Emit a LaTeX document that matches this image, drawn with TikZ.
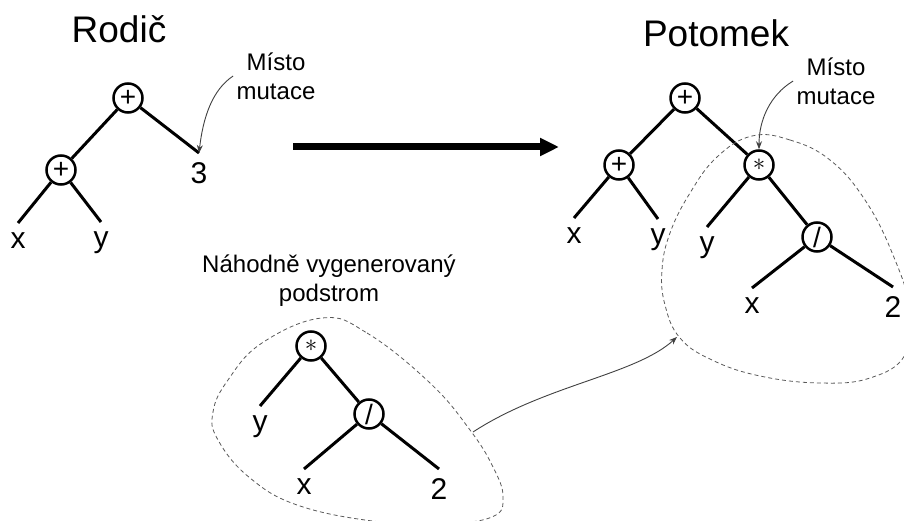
\documentclass[tikz,border=0pt]{standalone}
\usepackage{fontspec}
\setmainfont{Liberation Sans}
\usepackage{tikz}
\usetikzlibrary{arrows.meta}

\begin{document}
\begin{tikzpicture}[x=1pt, y=-1pt,
  op/.style={circle, draw, line width=2.5pt, minimum size=29pt, inner sep=0pt, font=\fontsize{28}{28}\selectfont},
  leaf/.style={anchor=north, inner xsep=0pt, inner ysep=9pt, font=\fontsize{30}{30}\selectfont},
  edge/.style={line width=3pt},
  title/.style={anchor=base, font=\fontsize{37}{37}\selectfont},
  note/.style={align=center, font=\fontsize{24}{29}\selectfont},
  pointer/.style={draw=black!75, line width=0.9pt, -{Stealth[length=8pt,width=6pt]}},
  blob/.style={draw=black!65, line width=0.8pt, dash pattern=on 4pt off 3pt}]

\useasboundingbox (0,0) rectangle (904,521);

% rodic
\node[title] (rodic) at (119,43) {Rodič};
\node[op] (p1) at (128,98) {+};
\node[op] (p2) at (61,170) {+};
\node[leaf] (px) at (18,223) {x};
\node[leaf] (py) at (101,222) {y};
\node[leaf] (p3) at (199,153) {3};

\draw[edge] (p1) -- (p2);
\draw[edge] (p1) -- (p3.north);
\draw[edge] (p2) -- (px.north);
\draw[edge] (p2) -- (py.north);

\node[note] (pmisto) at (276,76) {Místo\\mutace};
\draw[pointer] (pmisto.west) .. controls (212,90) and (203,118) .. (p3.north);

% potomek
\node[title] (potomek) at (716,47) {Potomek};
\node[op] (c1) at (685,98) {+};
\node[op] (c2) at (619,165) {+};
\node[op] (c3) at (759,165) {\fontsize{36}{36}\selectfont$\ast$};
\node[op] (c4) at (817,237) {/};
\node[leaf] (cx) at (574,218) {x};
\node[leaf] (cy) at (658,219) {y};
\node[leaf] (cy2) at (707,227) {y};
\node[leaf] (cx2) at (752,288) {x};
\node[leaf] (ctwo) at (893,287) {2};

\draw[edge] (c1) -- (c2);
\draw[edge] (c1) -- (c3);
\draw[edge] (c2) -- (cx.north);
\draw[edge] (c2) -- (cy.north);
\draw[edge] (c3) -- (cy2.north);
\draw[edge] (c3) -- (c4);
\draw[edge] (c4) -- (cx2.north);
\draw[edge] (c4) -- (ctwo.north);

\node[note] (cmisto) at (836,81) {Místo\\mutace};
\draw[pointer] (cmisto.west) .. controls (770,95) and (759,120) .. (c3);

\draw[blob] plot[smooth cycle, tension=0.7] coordinates {(752,136) (790,140) (830,160) (865,200) (893,255) (910,310) (905,355) (870,378) (820,383) (760,376) (712,360) (680,338) (665,305) (662,270) (670,233) (690,193) (717,157)};

% sipka
\coordinate (go) at (293,147);
\coordinate (come) at (559,147);
\draw[line width=7pt, -{Triangle[length=19pt,width=17pt]}] (go) -- (come);

% podstrom
\node[note] (nahodne) at (329,281) {Náhodně vygenerovaný\\podstrom};
\node[op] (s1) at (311,346) {\fontsize{36}{36}\selectfont$\ast$};
\node[op] (s2) at (369,414) {/};
\node[leaf] (sy) at (260,406) {y};
\node[leaf] (sx) at (304,469) {x};
\node[leaf] (stwo) at (439,469) {2};

\draw[edge] (s1) -- (sy.north);
\draw[edge] (s1) -- (s2);
\draw[edge] (s2) -- (sx.north);
\draw[edge] (s2) -- (stwo.north);

\draw[blob] plot[smooth cycle, tension=0.7] coordinates {(322,318) (367,333) (430,383) (470,430) (493,467) (503,497) (492,517) (440,524) (380,522) (300,506) (250,478) (218,440) (213,412) (228,380) (262,343)};

\coordinate (tail) at (473,432);
\coordinate (head) at (677,337);
\draw[pointer] (tail) .. controls (545,385) and (635,375) .. (head);

\end{tikzpicture}
\end{document}
